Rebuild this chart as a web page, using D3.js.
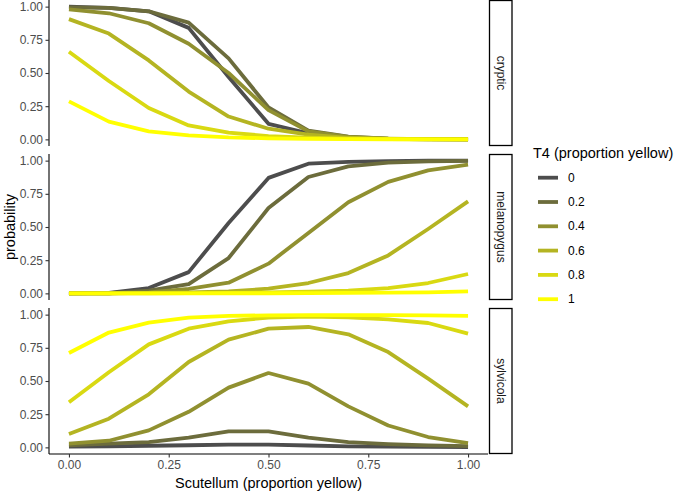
<!DOCTYPE html>
<html><head><meta charset="utf-8">
<script src="https://cdn.jsdelivr.net/npm/d3@7"></script>
<style>body{margin:0;background:#fff}svg{display:block;font-family:"Liberation Sans",Arial,sans-serif}</style>
</head><body><svg id="c" width="685" height="491"></svg>
<script>
const xValues = [0,0.1,0.2,0.3,0.4,0.5,0.6,0.7,0.8,0.9,1];
const t4Levels = ["0","0.2","0.4","0.6","0.8","1"];
const t4Colors = ["#4d4d4d","#6c6c3c","#909030","#b4b422","#d9d912","#ffff00"];
const facets = ["cryptic","melanopygus","sylvicola"];
const xTicks = [0,0.25,0.5,0.75,1];
const yTicks = [0,0.25,0.5,0.75,1];

const cryptic = [
  [1.00,0.99,0.965,0.84,0.47,0.117,0.046,0.012,0.003,0.001,0],
  [0.995,0.99,0.965,0.88,0.61,0.24,0.065,0.02,0.005,0.002,0.001],
  [0.98,0.95,0.875,0.72,0.50,0.22,0.06,0.018,0.005,0.002,0.001],
  [0.906,0.797,0.595,0.36,0.172,0.08,0.035,0.012,0.005,0.002,0.001],
  [0.66,0.44,0.236,0.105,0.05,0.025,0.012,0.005,0.002,0.001,0],
  [0.286,0.134,0.06,0.03,0.015,0.008,0.004,0.002,0.001,0,0]
];
const melanopygus = [
  [0,0.003,0.04,0.16,0.53,0.87,0.977,0.99,0.996,0.999,1],
  [0,0.001,0.02,0.07,0.266,0.643,0.877,0.957,0.985,0.995,0.998],
  [0,0,0.008,0.033,0.08,0.224,0.455,0.686,0.84,0.927,0.97],
  [0,0,0.003,0.008,0.015,0.035,0.078,0.153,0.286,0.485,0.693],
  [0,0,0,0.002,0.004,0.007,0.012,0.02,0.04,0.078,0.146],
  [0,0,0,0,0.001,0.001,0.002,0.003,0.005,0.008,0.015]
];
const sylvicola = [
  [0.005,0.008,0.012,0.016,0.02,0.02,0.014,0.008,0.005,0.003,0.002],
  [0.015,0.028,0.04,0.073,0.12,0.12,0.073,0.04,0.025,0.015,0.01],
  [0.028,0.05,0.128,0.268,0.45,0.56,0.48,0.309,0.165,0.078,0.032],
  [0.1,0.216,0.40,0.643,0.812,0.894,0.907,0.852,0.718,0.518,0.309],
  [0.34,0.566,0.776,0.894,0.95,0.978,0.985,0.98,0.965,0.937,0.857],
  [0.711,0.865,0.94,0.978,0.99,0.995,0.997,0.997,0.996,0.994,0.99]
];
const facetData = [cryptic, melanopygus, sylvicola];

const svg = d3.select("#c");
const color = d3.scaleOrdinal().domain(t4Levels).range(t4Colors);

const left = 49, right = 488;
const panelTops = [0, 154, 308], panelH = 146;
const x = d3.scaleLinear().domain([-0.05,1.05]).range([left,right]);

facets.forEach((f, fi) => {
  const top = panelTops[fi];
  const y = d3.scaleLinear().domain([-0.05,1.05]).range([top+panelH, top]);
  const g = svg.append("g");
  const line = d3.line().x((d,i)=>x(xValues[i])).y(d=>y(d));
  facetData[fi].forEach((vals, si) => {
    g.append("path").attr("d", line(vals)).attr("fill","none")
      .attr("stroke", color(t4Levels[si])).attr("stroke-width",3.8)
      .attr("stroke-linejoin","round").attr("stroke-linecap","butt");
  });
  const ya = g.append("g").attr("transform",`translate(${left},0)`)
    .call(d3.axisLeft(y).tickValues(yTicks).tickFormat(d3.format(".2f")).tickSize(3.5).tickPadding(2.5));
  ya.select(".domain").attr("stroke","#000").attr("stroke-width",1.1).attr("d",`M0,${top}V${top+panelH}`);
  ya.selectAll(".tick line").attr("stroke","#333").attr("stroke-width",1.1);
  ya.selectAll(".tick text").attr("fill","#4d4d4d").style("font-size","12px").style("font-family","Liberation Sans, Arial, sans-serif");
  g.append("rect").attr("x",489.5).attr("y",top+0.5).attr("width",22.5).attr("height",panelH-1)
    .attr("fill","#fff").attr("stroke","#000").attr("stroke-width",1.3);
  g.append("text").attr("transform",`translate(501,${top+panelH/2}) rotate(90)`)
    .attr("text-anchor","middle").attr("dominant-baseline","central")
    .attr("fill","#1a1a1a").style("font-size","12px").text(f);
  if (fi === facets.length-1) {
    const xa = g.append("g").attr("transform",`translate(0,${top+panelH})`)
      .call(d3.axisBottom(x).tickValues(xTicks).tickFormat(d3.format(".2f")).tickSize(3.5).tickPadding(2.5));
    xa.select(".domain").attr("stroke","#000").attr("stroke-width",1.1).attr("d",`M${left},0H${right}`);
    xa.selectAll(".tick line").attr("stroke","#333").attr("stroke-width",1.1);
    xa.selectAll(".tick text").attr("fill","#4d4d4d").style("font-size","12px").style("font-family","Liberation Sans, Arial, sans-serif");
  }
});

svg.append("text").attr("x",(left+right)/2).attr("y",488).attr("text-anchor","middle")
  .style("font-size","14.5px").attr("fill","#000").text("Scutellum (proportion yellow)");
svg.append("text").attr("transform",`translate(10,${(panelTops[0]+panelTops[2]+panelH)/2}) rotate(-90)`)
  .attr("text-anchor","middle").attr("dominant-baseline","central")
  .style("font-size","14.5px").attr("fill","#000").text("probability");

const lg = svg.append("g");
lg.append("text").attr("x",533).attr("y",158).style("font-size","14.5px").attr("fill","#000").text("T4 (proportion yellow)");
t4Levels.forEach((lv,i)=>{
  const yy = 177.7 + i*24.3;
  lg.append("line").attr("x1",538).attr("x2",558).attr("y1",yy).attr("y2",yy)
    .attr("stroke",color(lv)).attr("stroke-width",3.8);
  lg.append("text").attr("x",568).attr("y",yy).attr("dominant-baseline","central")
    .style("font-size","12px").attr("fill","#000").text(lv);
});
</script></body></html>
